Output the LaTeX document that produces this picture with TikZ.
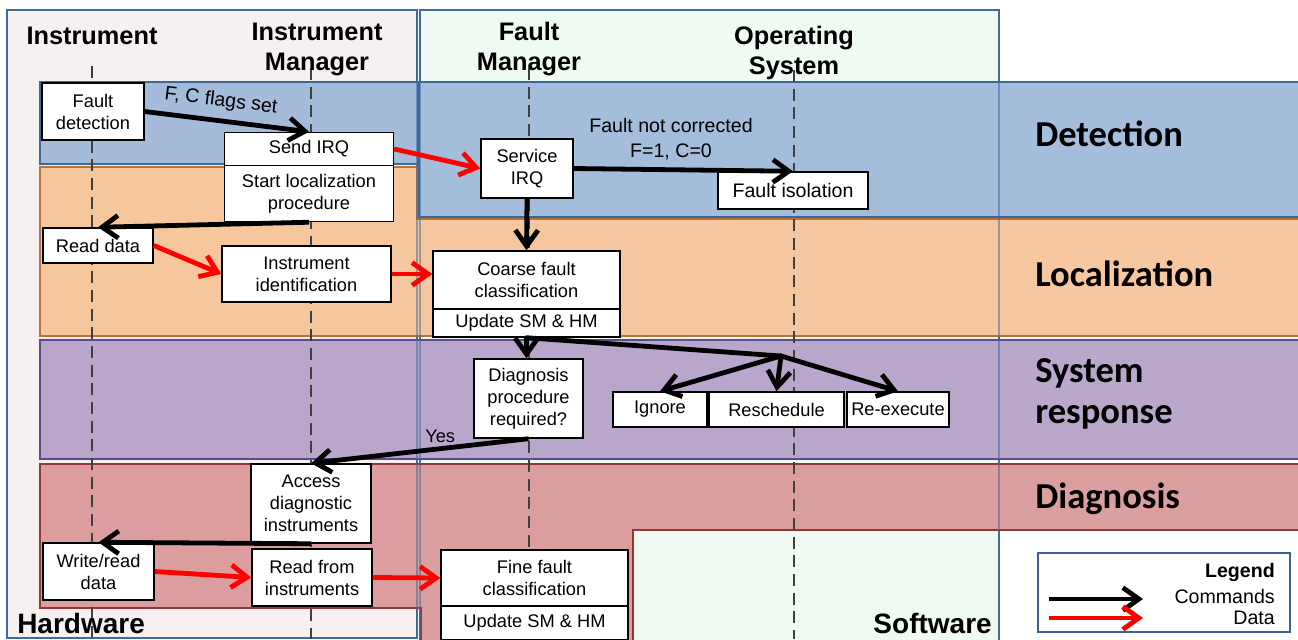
\documentclass[tikz,border=0pt]{standalone}
\usepackage{fontspec}
\setmainfont{Liberation Sans}
\newfontfamily\calib{Carlito}
\usetikzlibrary{arrows.meta}

\definecolor{hwbg}{HTML}{F6F0F0}
\definecolor{swbg}{HTML}{EEFAF2}
\definecolor{panelline}{HTML}{3F6C9E}
\definecolor{detfill}{HTML}{9CB7D8}
\definecolor{detline}{HTML}{3C6898}
\definecolor{locfill}{HTML}{F7C295}
\definecolor{locline}{HTML}{B8733A}
\definecolor{resfill}{HTML}{B39FC6}
\definecolor{resline}{HTML}{5E4A8A}
\definecolor{diafill}{HTML}{D99595}
\definecolor{dialine}{HTML}{963634}
\definecolor{legline}{HTML}{3A6294}

\begin{document}
\begin{tikzpicture}[x=0.75pt, y=-0.75pt,
  panel/.style={draw=panelline, line width=2pt},
  band/.style={fill opacity=0.9, line width=1.9pt},
  life/.style={draw=black!75, line width=1pt, dash pattern=on 9pt off 5pt},
  box/.style={draw=black, line width=1.1pt, fill=white, align=center, inner sep=0pt,
              font=\fontsize{13.7}{16.5}\selectfont},
  wh/.style 2 args={minimum width={#1*0.75pt}, minimum height={#2*0.75pt}},
  cmd/.style={draw=black, line width=3.6pt, -{Straight Barb[length=12pt,width=17pt]}},
  dat/.style={cmd, draw=red},
  head/.style={font=\fontsize{19}{22.5}\selectfont\bfseries, align=center, inner sep=0pt},
  row/.style={font=\calib\bfseries\fontsize{27.4}{31}\selectfont, anchor=base west, inner sep=0pt},
  side/.style={font=\bfseries\fontsize{21}{25}\selectfont, inner sep=0pt},
  note/.style={font=\fontsize{14.7}{18.75}\selectfont, align=center, inner sep=0pt},
]
\useasboundingbox (0,0) rectangle (1298,639);
\fill[white] (0,0) rectangle (1298,639);

% hardware and software panels
\draw[panel, fill=hwbg] (7,10) rectangle (417,638);
\draw[panel, fill=swbg] (420,10) rectangle (999,650);

% phase bands
\draw[band, fill=detfill, draw=detline] (40,82) rectangle (418,164);
\draw[band, fill=detfill, draw=detline] (419,82) rectangle (1300,217);
\draw[band, fill=locfill, draw=locline] (40,167) -- (417,167) -- (417,219) -- (1300,219)
  -- (1300,336) -- (40,336) -- cycle;
\draw[band, fill=resfill, draw=resline] (40,340) rectangle (1300,459);
\draw[band, fill=diafill, draw=dialine] (40,464) -- (1300,464) -- (1300,530) -- (633,530)
  -- (633,650) -- (421,650) -- (421,608) -- (40,608) -- cycle;

% panel edges seen through the bands
\draw[panelline, line width=2pt, draw opacity=0.45] (7,10) rectangle (417,638)
  (420,10) rectangle (999,650);

% lifelines
\draw[life] (92,66) -- (92,639);
\draw[life] (311,68) -- (311,639);
\draw[life] (529,68) -- (529,639);
\draw[life] (794,70) -- (794,639);

% column headings
\node[head, anchor=base] (hInst) at (92,44) {Instrument};
\node[head] (hIM) at (317,49) {Instrument\\Manager};
\node[head] (hFM) at (529,49) {Fault\\Manager};
\node[head] (hOS) at (794,52.5) {Operating\\System};

% phase names
\node[row] (rDet) at (1035,146) {Detection};
\node[row] (rLoc) at (1035,286) {Localization};
\node[row] (rSys1) at (1035,382) {System};
\node[row] (rSys2) at (1035,423) {response};
\node[row] (rDia) at (1035,508) {Diagnosis};

\node[side, anchor=base west] (hw) at (17,633) {Hardware};
\node[side, anchor=base east] (sw) at (992,633) {Software};

% steps
\node[box, wh={102}{57}] (fd) at (93,111.5) {Fault\\detection};
\node[box, wh={169}{33}] (sirq) at (309,149) {Send IRQ};
\node[box, wh={169}{56}] (sloc) at (309,193.5) {Start localization\\procedure};
\node[box, wh={110}{35}] (rd) at (98,245.5) {Read data};
\node[box, wh={169}{56}] (iid) at (306.5,274) {Instrument\\identification};
\node[box, wh={92}{59}] (svc) at (527,168.5) {Service\\IRQ};
\node[box, wh={150}{37}, font=\fontsize{14.7}{17}\selectfont] (fiso) at (793,190.5) {Fault isolation};
\node[box, wh={187}{58}] (coarse) at (526.5,280) {Coarse fault\\classification};
\node[box, wh={187}{28}] (upd1) at (526.5,323) {Update SM \& HM};
\node[box, wh={109}{79}] (diag) at (528.5,398.5) {Diagnosis\\procedure\\required?};
\node[box, wh={94}{35}] (ign) at (660,409.5) {Ignore};
\node[box, wh={135}{35}] (resch) at (776.5,409.5) {Reschedule};
\node[box, wh={102}{35}] (reex) at (898,409.5) {Re-execute};
\node[box, wh={120}{79}] (acc) at (311,503.5) {Access\\diagnostic\\instruments};
\node[box, wh={111}{57}] (wr) at (98.5,571.5) {Write/read\\data};
\node[box, wh={120}{57}] (rf) at (312,577.5) {Read from\\instruments};
\node[box, wh={187}{56}] (ff) at (534.5,578) {Fine fault\\classification};
\node[box, wh={187}{34}] (upd2) at (534.5,623) {Update SM \& HM};

% labels
\node[note] (nfc) at (671,139) {Fault not corrected\\F=1, C=0};
\node[note, anchor=base west, font=\fontsize{13.7}{16}\selectfont] (yes) at (425,442) {Yes};

% commands and data
\draw[cmd] (fd.east) -- node[note, sloped, above=6pt, pos=0.45] (flags) {F, C flags set} (sirq.north);
\draw[dat] (sirq.east) -- (svc.west);
\draw[cmd] (sloc.south) -- (rd.north);
\draw[dat] (rd.east) -- (iid.west);
\draw[dat] (iid.east) -- (iid.east -| coarse.west);
\draw[cmd] (svc.east) -- (fiso.north);
\draw[cmd] (svc.south) -- (coarse.north);
\draw[cmd] (upd1.south) -- (upd1.south |- diag.north);
\coordinate (br) at (781,356);
\draw[line width=3.6pt, line cap=round] (upd1.south) -- (br);
\draw[cmd, line cap=round] (br) -- (ign.north);
\draw[cmd, line cap=round] (br) -- (resch.north);
\draw[cmd, line cap=round] (br) -- (reex.north);
\draw[cmd] (diag.south) -- (acc.north);
\draw[cmd] (acc.south) -- (wr.north);
\draw[dat] (wr.east) -- (rf.west);
\draw[dat] (rf.east) -- (ff.west);

% legend
\node[draw=legline, line width=2pt, fill=white, wh={252}{79}] (leg) at (1164,592.5) {};
\node[note, anchor=base east, font=\bfseries\fontsize{14.7}{17}\selectfont] (legT) at (1275,577) {Legend};
\node[note, anchor=base east] (legC) at (1275,603) {Commands};
\node[note, anchor=base east] (legD) at (1275,624) {Data};
\coordinate (lc1) at (1049,599);
\coordinate (lc2) at (1143,599);
\coordinate (ld1) at (1049,618);
\coordinate (ld2) at (1143,618);
\draw[cmd] (lc1) -- (lc2);
\draw[dat] (ld1) -- (ld2);
\end{tikzpicture}
\end{document}
